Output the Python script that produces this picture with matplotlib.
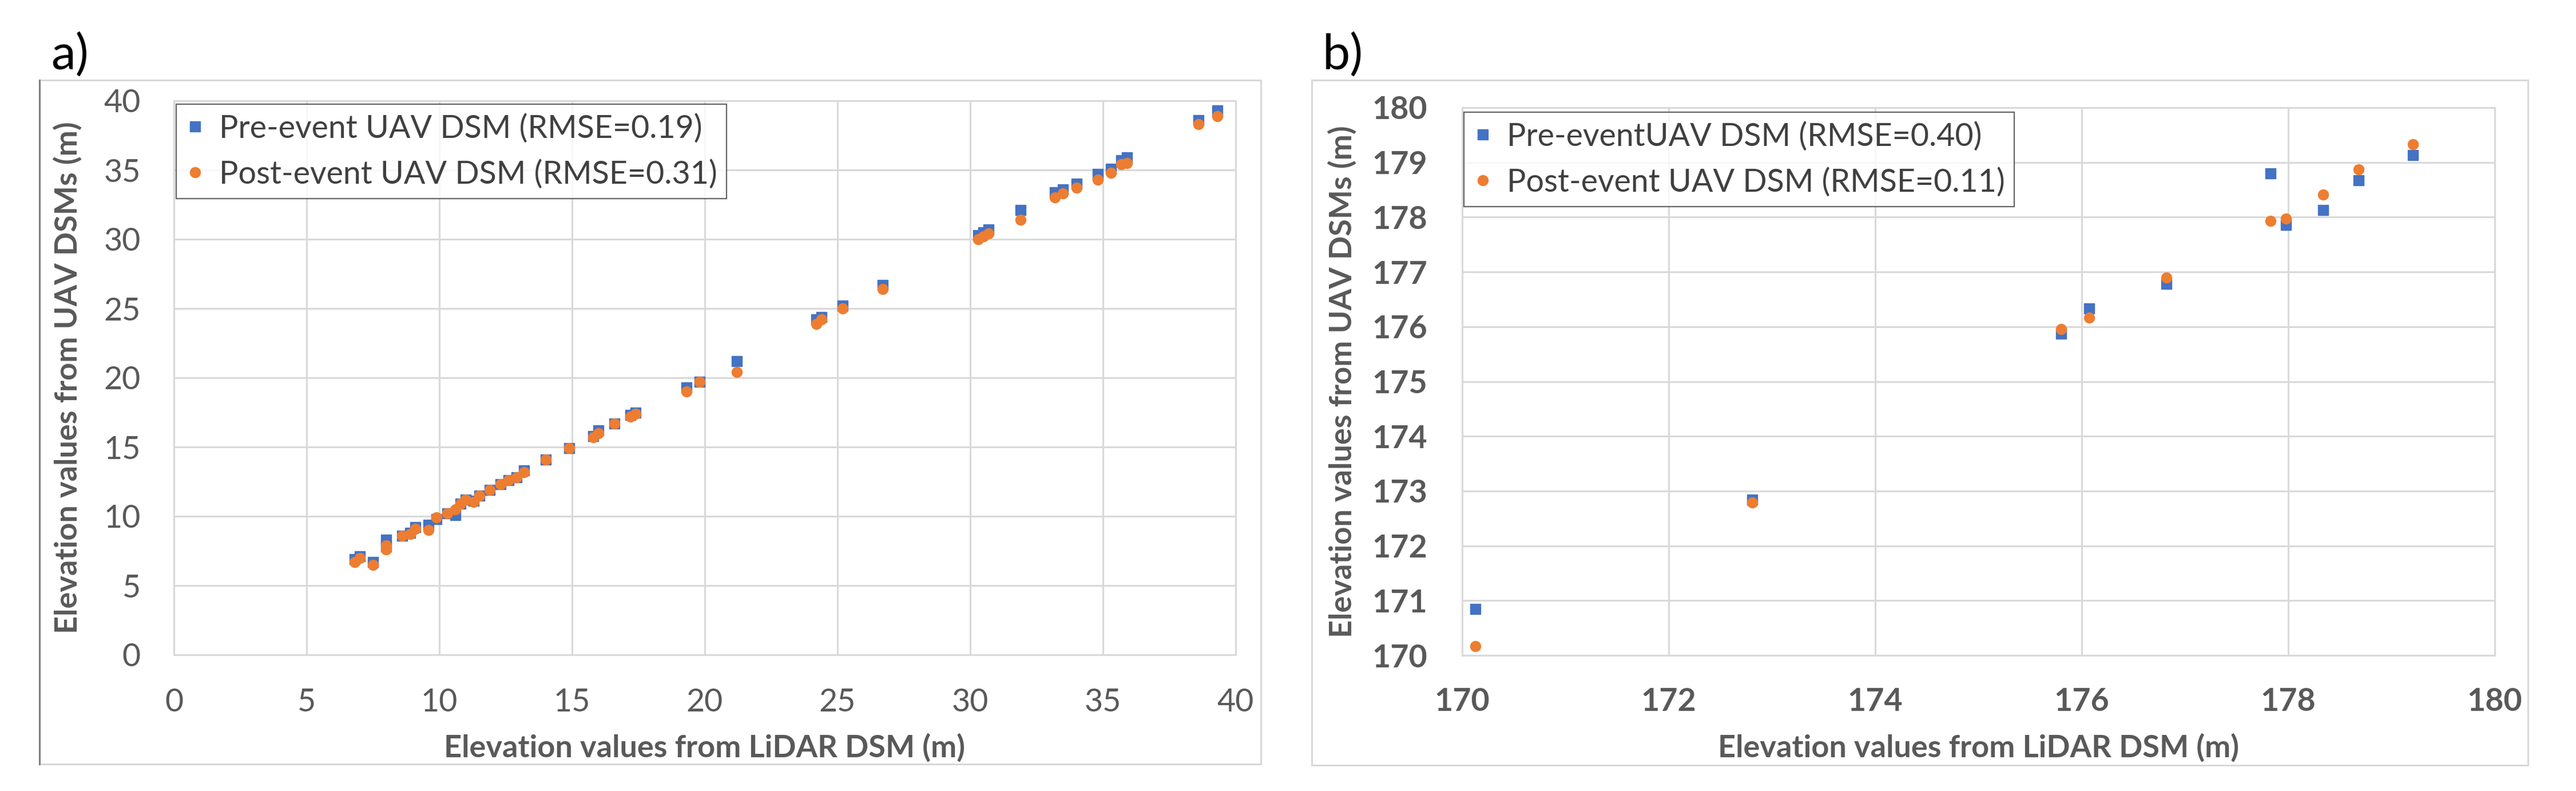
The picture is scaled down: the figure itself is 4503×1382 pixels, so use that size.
import matplotlib
matplotlib.use("Agg")
import matplotlib.pyplot as plt
from matplotlib.patches import Rectangle
from matplotlib.lines import Line2D

# panel a) -- 0..40 m range
lidar_a = [6.8, 7.0, 7.5, 8.0, 8.0, 8.6, 8.9, 9.1, 9.6, 9.9, 10.3, 10.6, 10.8, 11.0,
           11.3, 11.5, 11.9, 12.3, 12.6, 12.9, 13.2, 14.0, 14.9, 15.8, 16.0, 16.6,
           17.2, 17.4, 19.3, 19.8, 21.2, 24.2, 24.4, 25.2, 26.7, 30.3, 30.5, 30.7,
           31.9, 33.2, 33.5, 34.0, 34.8, 35.3, 35.7, 35.9, 38.6, 39.3]
pre_a = [6.9, 7.1, 6.7, 8.3, 7.8, 8.6, 8.8, 9.2, 9.4, 9.8, 10.2, 10.1, 10.9, 11.2,
         11.1, 11.5, 11.9, 12.3, 12.6, 12.8, 13.3, 14.1, 14.9, 15.8, 16.2, 16.7,
         17.3, 17.5, 19.3, 19.7, 21.2, 24.2, 24.4, 25.2, 26.7, 30.3, 30.5, 30.7,
         32.1, 33.4, 33.6, 34.0, 34.7, 35.1, 35.7, 35.9, 38.6, 39.3]
post_a = [6.7, 7.0, 6.5, 7.6, 7.9, 8.6, 8.7, 9.1, 9.0, 9.9, 10.2, 10.5, 10.9, 11.2,
          11.05, 11.5, 11.9, 12.3, 12.6, 12.8, 13.2, 14.1, 14.9, 15.7, 16.0, 16.7,
          17.2, 17.4, 19.0, 19.7, 20.4, 23.9, 24.2, 25.0, 26.4, 30.0, 30.2, 30.4,
          31.4, 33.0, 33.3, 33.7, 34.3, 34.8, 35.4, 35.5, 38.3, 38.9]

# panel b) -- 170..180 m range
lidar_b = [170.13, 172.81, 175.80, 176.07, 176.82, 177.83, 177.98, 178.34, 178.68, 179.21]
pre_b = [170.85, 172.84, 175.87, 176.33, 176.78, 178.80, 177.86, 178.13, 178.67, 179.13]
post_b = [170.17, 172.79, 175.96, 176.16, 176.90, 177.93, 177.97, 178.41, 178.87, 179.33]

ticks_a = [0, 5, 10, 15, 20, 25, 30, 35, 40]
xticks_b = [170, 172, 174, 176, 178, 180]
yticks_b = [170, 171, 172, 173, 174, 175, 176, 177, 178, 179, 180]

labels_a = ["Pre-event UAV DSM (RMSE=0.19)", "Post-event UAV DSM (RMSE=0.31)"]
labels_b = ["Pre-eventUAV DSM (RMSE=0.40)", "Post-event UAV DSM (RMSE=0.11)"]

BLUE = "#4472C4"
ORANGE = "#ED7D31"
GRID = "#D9D9D9"
TEXT = "#595959"
FRAME = "#D9D9D9"

W, H = 4503, 1382
DPI = 100
FONT = "Lato"

plt.rcParams["font.family"] = [FONT, "DejaVu Sans"]

fig = plt.figure(figsize=(W / DPI, H / DPI), dpi=DPI)
fig.patch.set_facecolor("white")


def px_rect(x0, y0, x1, y1):
    # pixel box (top-left origin) -> figure fraction [l, b, w, h]
    return [x0 / W, 1 - y1 / H, (x1 - x0) / W, (y1 - y0) / H]


def frame(x0, y0, x1, y1, left_color=FRAME):
    l, b, w, h = px_rect(x0, y0, x1, y1)
    fig.add_artist(Rectangle((l, b), w, h, transform=fig.transFigure,
                             fill=False, edgecolor=FRAME, linewidth=2.2))
    fig.add_artist(Line2D([l, l], [b, b + h], transform=fig.transFigure,
                          color=left_color, linewidth=2.2))


def style_axes(ax, xpad, ypad, tick_weight="normal"):
    ax.grid(True, color=GRID, linewidth=2.2, zorder=0)
    ax.set_axisbelow(True)
    for s in ax.spines.values():
        s.set_color(GRID)
        s.set_linewidth(2.2)
    ax.tick_params(length=0, labelsize=40, colors=TEXT)
    ax.tick_params(axis="x", pad=xpad)
    ax.tick_params(axis="y", pad=ypad)
    for lbl in ax.get_xticklabels() + ax.get_yticklabels():
        lbl.set_fontweight(tick_weight)


def draw_panel(rect, xs, pre, post, xlim, ylim, xticks, yticks, labels,
               legend_xy, ylab_x, xpad, ypad, tick_weight):
    ax = fig.add_axes(px_rect(*rect))
    ax.plot(xs, pre, linestyle="none", marker="s", ms=13, color=BLUE,
            mec=BLUE, label=labels[0], zorder=3)
    ax.plot(xs, post, linestyle="none", marker="o", ms=13, color=ORANGE,
            mec=ORANGE, label=labels[1], zorder=4)
    ax.set_xlim(*xlim)
    ax.set_ylim(*ylim)
    ax.set_xticks(xticks)
    ax.set_yticks(yticks)
    style_axes(ax, xpad, ypad, tick_weight)

    ax.set_xlabel("Elevation values from LiDAR DSM (m)", fontsize=39,
                  fontweight="bold", color=TEXT)
    ax.set_ylabel("Elevation values from UAV DSMs (m)", fontsize=39,
                  fontweight="bold", color=TEXT)
    ax.xaxis.set_label_coords(0.5, -0.168)
    ax.xaxis.label.set_va("center")
    ax.yaxis.set_label_coords(ylab_x, 0.5)
    ax.yaxis.label.set_va("center")

    leg = ax.legend(loc="upper left", bbox_to_anchor=legend_xy,
                    bbox_transform=fig.transFigure, borderaxespad=0,
                    fontsize=40, frameon=True, fancybox=False,
                    handlelength=0.6, handletextpad=0.45, borderpad=0.3,
                    labelspacing=0.5, markerscale=1.0)
    leg.get_frame().set_edgecolor("#404040")
    leg.get_frame().set_linewidth(1.6)
    for t in leg.get_texts():
        t.set_color("#404040")
    return ax


# outer frames
frame(69, 140, 2204, 1335, left_color="#808080")
frame(2293, 140, 4419, 1337)

draw_panel((304, 176, 2160, 1144), lidar_a, pre_a, post_a, (0, 40), (0, 40),
           ticks_a, ticks_a, labels_a, (308 / W, 1 - 182 / H), -0.100,
           xpad=42, ypad=42, tick_weight="normal")
draw_panel((2556, 188, 4361, 1145), lidar_b, pre_b, post_b, (170, 180), (170, 180),
           xticks_b, yticks_b, labels_b, (2559 / W, 1 - 196 / H), -0.116,
           xpad=40, ypad=44, tick_weight="bold")

# panel tags
fig.text(89 / W, 1 - 120 / H, "a)", fontsize=62, color="black",
         ha="left", va="baseline")
fig.text(2312 / W, 1 - 120 / H, "b)", fontsize=62, color="black",
         ha="left", va="baseline")

fig.savefig("out.png", dpi=DPI)
